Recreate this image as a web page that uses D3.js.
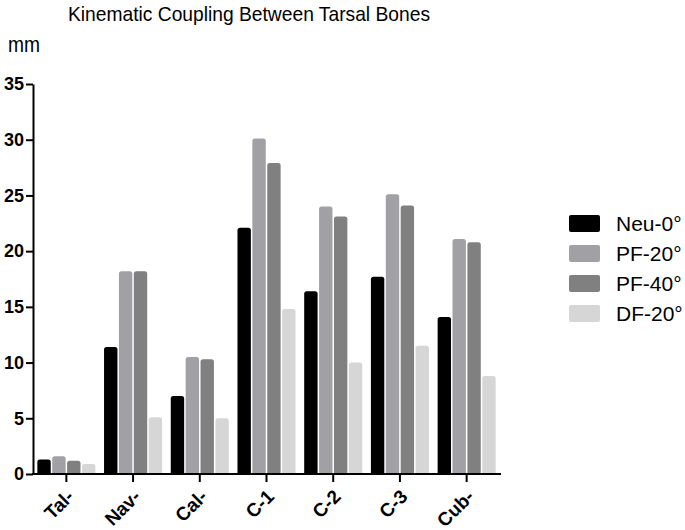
<!DOCTYPE html>
<html>
<head>
<meta charset="utf-8">
<script src="https://cdn.jsdelivr.net/npm/d3@7"></script>
<style>
  body { margin: 0; background: #fff; }
  svg text { font-family: "Liberation Sans", Arial, sans-serif; }
</style>
</head>
<body>
<svg id="chart" width="685" height="530"></svg>
<script>
// categories + series
var categories = ["Tal-", "Nav-", "Cal-", "C-1", "C-2", "C-3", "Cub-"];
var seriesNames = ["Neu-0°", "PF-20°", "PF-40°", "DF-20°"];
var neu0  = [1.3, 11.4, 7.0, 22.1, 16.4, 17.7, 14.1];
var pf20  = [1.6, 18.2, 10.5, 30.1, 24.0, 25.1, 21.1];
var pf40  = [1.2, 18.2, 10.3, 27.9, 23.1, 24.1, 20.8];
var df20  = [0.9, 5.1, 5.0, 14.8, 10.0, 11.5, 8.8];
var yTicks = [0, 5, 10, 15, 20, 25, 30, 35];

var colours = ["#000000", "#a1a1a5", "#808080", "#d6d6d6"];
var allSeries = [neu0, pf20, pf40, df20];

var svg = d3.select("#chart");

var x0 = d3.scaleBand()
    .domain(categories)
    .range([33, 500])
    .paddingInner(0.13)
    .paddingOuter(0.065);

var x1 = d3.scaleBand()
    .domain(seriesNames)
    .range([0, x0.bandwidth()])
    .paddingInner(0.1);

var y = d3.scaleLinear()
    .domain([0, 35])
    .range([474, 84]);

// bar with rounded top corners
function barPath(x, w, top, bottom, r) {
    r = Math.min(r, w / 2, (bottom - top));
    return "M" + x + "," + bottom +
        "V" + (top + r) +
        "Q" + x + "," + top + " " + (x + r) + "," + top +
        "H" + (x + w - r) +
        "Q" + (x + w) + "," + top + " " + (x + w) + "," + (top + r) +
        "V" + bottom + "Z";
}

var groups = svg.append("g").selectAll("g")
    .data(categories)
    .enter().append("g")
    .attr("transform", function(d) { return "translate(" + x0(d) + ",0)"; });

groups.selectAll("path")
    .data(function(d, i) {
        return seriesNames.map(function(s, j) {
            return { series: s, value: allSeries[j][i], colour: colours[j] };
        });
    })
    .enter().append("path")
    .attr("d", function(d) {
        return barPath(x1(d.series), x1.bandwidth(), y(d.value), y(0), 2.5);
    })
    .attr("fill", function(d) { return d.colour; });

// y axis
var yAxis = svg.append("g")
    .attr("transform", "translate(33,0)")
    .call(d3.axisLeft(y).tickValues(yTicks).tickSize(7).tickPadding(2).tickSizeOuter(0));
yAxis.attr("font-family", null);
yAxis.select(".domain").attr("stroke", "#000").attr("stroke-width", 2);
yAxis.selectAll(".tick line").attr("stroke", "#000").attr("stroke-width", 2);
yAxis.selectAll("text")
    .attr("font-size", 18)
    .attr("font-weight", "bold")
    .attr("fill", "#000");

// x axis
var xAxis = svg.append("g")
    .attr("transform", "translate(0," + y(0) + ")")
    .call(d3.axisBottom(x0).tickSize(8).tickSizeOuter(0));
xAxis.attr("font-family", null);
xAxis.select(".domain")
    .attr("d", "M32,0H501")
    .attr("stroke", "#000").attr("stroke-width", 2);
xAxis.selectAll(".tick line").attr("stroke", "#000").attr("stroke-width", 2);
xAxis.selectAll("text")
    .attr("font-size", 19)
    .attr("font-weight", "bold")
    .attr("fill", "#000")
    .attr("text-anchor", "end")
    .attr("x", 0)
    .attr("y", 0)
    .attr("dy", "0.35em")
    .attr("transform", "translate(4,19) rotate(-45)");

// titles
svg.append("text")
    .attr("x", 249)
    .attr("y", 21)
    .attr("text-anchor", "middle")
    .attr("font-size", 21)
    .attr("textLength", 362)
    .attr("lengthAdjust", "spacingAndGlyphs")
    .attr("fill", "#000")
    .text("Kinematic Coupling Between Tarsal Bones");

svg.append("text")
    .attr("x", 8)
    .attr("y", 52)
    .attr("font-size", 22)
    .attr("textLength", 32)
    .attr("lengthAdjust", "spacingAndGlyphs")
    .attr("fill", "#000")
    .text("mm");

// legend
var legend = svg.append("g").selectAll("g")
    .data(seriesNames)
    .enter().append("g")
    .attr("transform", function(d, i) { return "translate(569," + (215 + i * 30) + ")"; });

legend.append("rect")
    .attr("width", 31)
    .attr("height", 17)
    .attr("rx", 2)
    .attr("fill", function(d, i) { return colours[i]; });

legend.append("text")
    .attr("x", 47)
    .attr("y", 16)
    .attr("font-size", 21)
    .attr("fill", "#000")
    .text(function(d) { return d; });
</script>
</body>
</html>
